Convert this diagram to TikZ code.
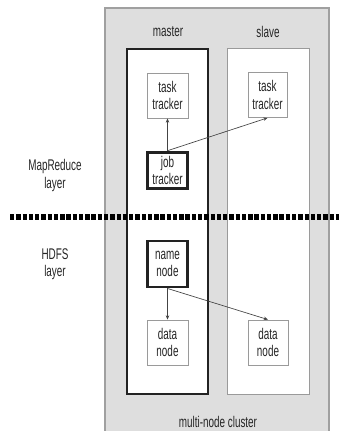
\documentclass[tikz,border=0pt]{standalone}
\usepackage{fontspec}
\setmainfont{Liberation Sans}[FakeStretch=0.64]
\usetikzlibrary{arrows.meta}
\definecolor{clgray}{HTML}{DEDEDE}
\definecolor{clborder}{HTML}{A0A0A0}
\definecolor{txtgray}{HTML}{262626}
\definecolor{boxborder}{HTML}{9A9A9A}
\definecolor{thickc}{HTML}{222222}
\definecolor{arrowc}{HTML}{444444}
\begin{document}
\begin{tikzpicture}[x=0.75pt,y=-0.75pt,
  every node/.style={font=\fontsize{11.6pt}{12.9pt}\selectfont, text=txtgray, align=center, inner sep=0pt},
  plainbox/.style={draw=boxborder, fill=white, line width=0.6pt, minimum width=30.75pt, minimum height=33.75pt},
  thickbox/.style={draw=thickc, fill=white, line width=2.2pt, minimum width=29.5pt},
  conn/.style={draw=arrowc, line width=0.5pt, -{Stealth[length=3.2pt,width=2.6pt]}},
  lbl/.style={}
]
\useasboundingbox (0,0) rectangle (339,431);
\fill[white] (0,0) rectangle (339,431);
% cluster
\node[draw=clborder, fill=clgray, line width=0.9pt, minimum width=224*0.75pt, minimum height=430*0.75pt] (cluster) at (217,223) {};
% master and slave
\node[draw=thickc, fill=white, line width=2.2pt, minimum width=81*0.75pt, minimum height=345*0.75pt] (master) at (167.5,221.5) {};
\node[draw=boxborder, fill=white, line width=0.7pt, minimum width=82*0.75pt, minimum height=346*0.75pt] (slave) at (268,221) {};
\node[lbl] (masterlbl) at (168,32) {master};
\node[lbl] (slavelbl) at (268,32) {slave};
% boxes
\node[plainbox] (ttm) at (167.5,95.5) {task\\tracker};
\node[plainbox, minimum width=29.25pt] (tts) at (267.5,95) {task\\tracker};
\node[thickbox, minimum height=27.5pt] (jt) at (167.5,170.5) {job\\tracker};
\node[thickbox, minimum height=34.5pt] (nn) at (167.5,264) {name\\node};
\node[plainbox] (dnm) at (167.5,342.5) {data\\node};
\node[plainbox, minimum width=30pt] (dns) at (268,342.5) {data\\node};
% layer labels
\node (mr) at (55,175.5) {MapReduce\\layer};
\node (hdfs) at (55,264.5) {HDFS\\layer};
\node (cl) at (218,422) {multi-node cluster};
% dotted separator
\coordinate (dl) at (10,217);
\coordinate (dr) at (339,217);
\draw[black, line width=3.8pt, dash pattern=on 3.3pt off 1.4pt] (dl) -- (dr);
% connectors
\draw[conn] (jt.north) -- (ttm.south);
\draw[conn] (jt.north) -- (tts.south);
\draw[conn] (nn.south) -- (dnm.north);
\draw[conn] (nn.south) -- (dns.north);
\end{tikzpicture}
\end{document}
